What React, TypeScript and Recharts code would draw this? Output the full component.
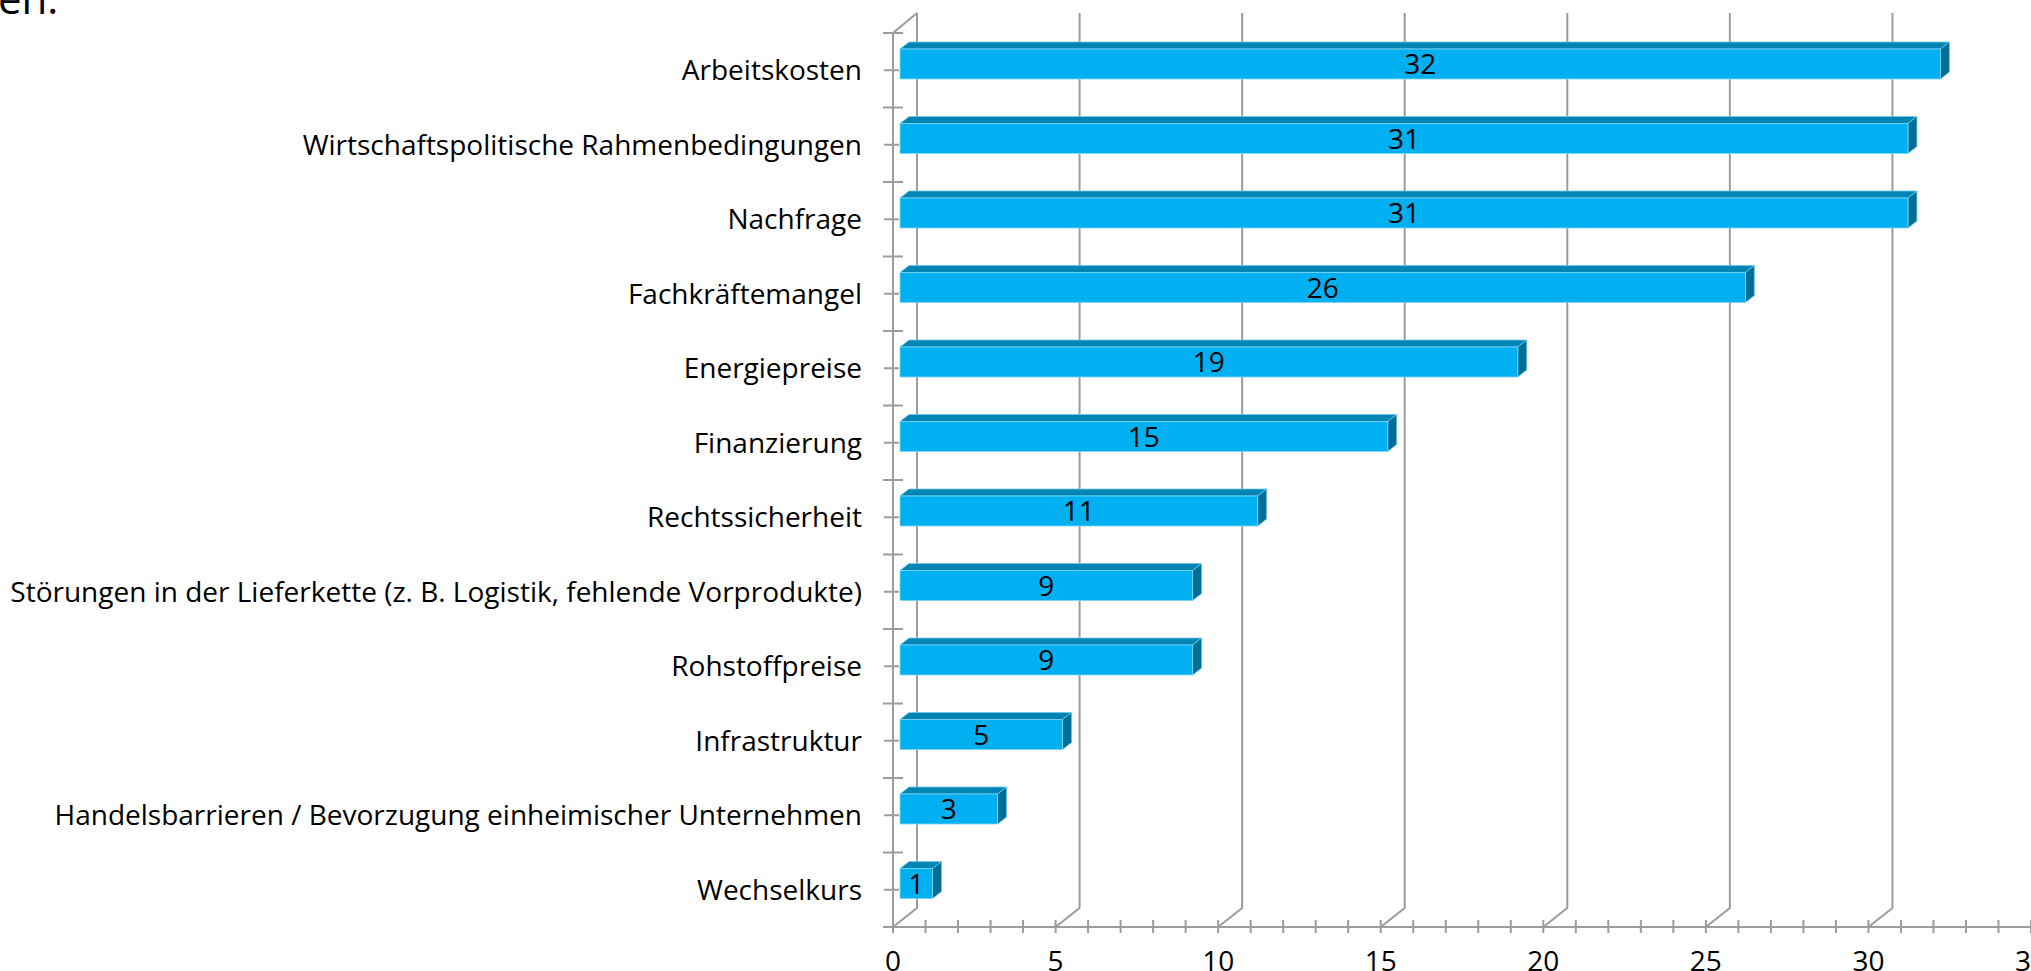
import { BarChart, Bar, XAxis, YAxis, CartesianGrid } from 'recharts'

const categories = [
  'Arbeitskosten',
  'Wirtschaftspolitische Rahmenbedingungen',
  'Nachfrage',
  'Fachkräftemangel',
  'Energiepreise',
  'Finanzierung',
  'Rechtssicherheit',
  'Störungen in der Lieferkette (z. B. Logistik, fehlende Vorprodukte)',
  'Rohstoffpreise',
  'Infrastruktur',
  'Handelsbarrieren / Bevorzugung einheimischer Unternehmen',
  'Wechselkurs',
]
const counts = [32, 31, 31, 26, 19, 15, 11, 9, 9, 5, 3, 1]
const xTicks = [0, 1, 2, 3, 4, 5, 6, 7, 8, 9, 10, 11, 12, 13, 14, 15, 16, 17, 18, 19, 20, 21, 22, 23, 24, 25, 26, 27, 28, 29, 30, 31, 32, 33, 34, 35]
const majorTicks = [0, 5, 10, 15, 20, 25, 30, 35]

const data = categories.map((name, i) => ({ name, count: counts[i] }))

const W = 2031
const H = 971
const margin = { top: 33, right: 0, bottom: 0, left: 693 }
const yAxisWidth = 200
const xAxisHeight = 44
const halfBand = (H - margin.top - xAxisHeight) / categories.length / 2

const FONT = '"Open Sans", sans-serif'
const GRID = '#9C9C9C'
// perspective offsets: back wall and bar depth
const WALL_DX = 24
const WALL_DY = 19
const BAR_DX = 9
const BAR_DY = 7

function renderWall(p: any) {
  const { x1, y1, y2, index } = p
  return (
    <g key={p.key}>
      <polyline
        points={`${x1},${y2} ${x1 + WALL_DX},${y2 - WALL_DY} ${x1 + WALL_DX},${y1 - 20}`}
        fill="none" stroke={GRID} strokeWidth={2} />
      {index === 0 && (
        <line x1={x1} y1={y1} x2={x1 + WALL_DX} y2={y1 - 20} stroke={GRID} strokeWidth={2} />
      )}
    </g>
  )
}

function Bar3D(props: any) {
  const { x, y, width, height, payload } = props
  const fx = x + 7
  const fy = y - 6
  const w = width
  const h = height
  return (
    <g>
      <polygon
        points={`${fx},${fy} ${fx + BAR_DX},${fy - BAR_DY} ${fx + w + BAR_DX},${fy - BAR_DY} ${fx + w},${fy}`}
        fill="#0084B3" stroke="#6FCBEA" strokeWidth={0.8} />
      <polygon
        points={`${fx + w},${fy} ${fx + w + BAR_DX},${fy - BAR_DY} ${fx + w + BAR_DX},${fy + h - BAR_DY} ${fx + w},${fy + h}`}
        fill="#006E97" stroke="#6FCBEA" strokeWidth={0.8} />
      <rect x={fx} y={fy} width={w} height={h} fill="#00B0F0" stroke="#7ED6F6" strokeWidth={0.8} />
      <text x={fx + w / 2} y={fy + h / 2 + 10} textAnchor="middle" fontFamily={FONT} fontSize={28} fill="#000">
        {payload.count}
      </text>
    </g>
  )
}

function CategoryTick(props: any) {
  const { x, y, payload, index } = props
  return (
    <g>
      <line x1={x - 9} x2={x + 6} y1={y} y2={y} stroke={GRID} strokeWidth={2} />
      <line x1={x - 10} x2={x + 10} y1={y - halfBand} y2={y - halfBand} stroke={GRID} strokeWidth={2} />
      {index === categories.length - 1 && (
        <line x1={x - 10} x2={x} y1={y + halfBand} y2={y + halfBand} stroke={GRID} strokeWidth={2} />
      )}
      <text x={x - 31} y={y + 10} textAnchor="end" fontFamily={FONT} fontSize={28} fill="#000">
        {payload.value}
      </text>
    </g>
  )
}

function ValueTick(props: any) {
  const { x, y, payload } = props
  return (
    <g>
      <line x1={x} x2={x} y1={y - 7} y2={y + 6} stroke={GRID} strokeWidth={2} />
      {majorTicks.includes(payload.value) && (
        <text x={x} y={y + 44} textAnchor="middle" fontFamily={FONT} fontSize={28} fill="#000">
          {payload.value}
        </text>
      )}
    </g>
  )
}

export default function App() {
  return (
    <div style={{ position: 'absolute', left: 0, top: 0, width: W, height: H, background: '#fff', overflow: 'hidden' }}>
      <svg width={120} height={30} style={{ position: 'absolute', left: 0, top: 0 }}>
        <text x={-2} y={14} fontFamily={FONT} fontSize={42} fill="#000">en.</text>
      </svg>
      <BarChart width={W} height={H} data={data} layout="vertical" margin={margin}>
        <CartesianGrid horizontal={false} vertical={renderWall} verticalValues={majorTicks} stroke={GRID} />
        <XAxis type="number" domain={[0, 35]} ticks={xTicks} interval={0} height={xAxisHeight}
          axisLine={{ stroke: GRID, strokeWidth: 2 }} tickLine={false} tickSize={0} tickMargin={0}
          tick={ValueTick} allowDataOverflow />
        <YAxis type="category" dataKey="name" width={yAxisWidth} interval={0}
          axisLine={{ stroke: GRID, strokeWidth: 2 }} tickLine={false} tickSize={0} tickMargin={0}
          tick={CategoryTick} />
        <Bar dataKey="count" barSize={30} shape={Bar3D} isAnimationActive={false} />
      </BarChart>
    </div>
  )
}
